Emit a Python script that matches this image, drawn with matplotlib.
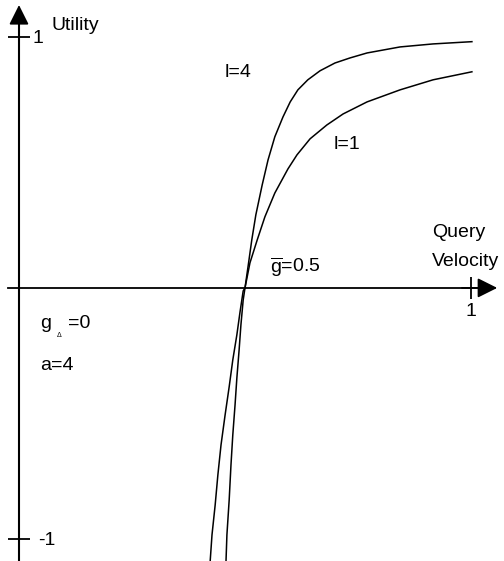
import matplotlib
matplotlib.use("Agg")
import matplotlib.pyplot as plt

plt.rcParams['font.family'] = ['Liberation Sans', 'DejaVu Sans']
plt.rcParams['mathtext.fontset'] = 'custom'
plt.rcParams['mathtext.rm'] = 'Liberation Sans'
plt.rcParams['mathtext.it'] = 'Liberation Sans'

# utility vs. query velocity
vel_l4 = [0.458, 0.460, 0.465, 0.469, 0.473, 0.478, 0.482, 0.487, 0.491, 0.496, 0.500,
          0.507, 0.515, 0.524, 0.538, 0.551, 0.566, 0.584, 0.600, 0.617, 0.639, 0.666,
          0.699, 0.732, 0.770, 0.843, 0.916, 1.002]
util_l4 = [-1.088, -0.984, -0.845, -0.705, -0.586, -0.466, -0.359, -0.247, -0.147, -0.048, 0.0,
           0.088, 0.191, 0.291, 0.410, 0.510, 0.602, 0.681, 0.741, 0.789, 0.829, 0.865,
           0.896, 0.916, 0.936, 0.960, 0.972, 0.981]

vel_l1 = [0.423, 0.427, 0.434, 0.440, 0.447, 0.456, 0.465, 0.473, 0.482, 0.489, 0.496, 0.500,
          0.511, 0.527, 0.544, 0.566, 0.595, 0.615, 0.644, 0.681, 0.717, 0.770, 0.843,
          0.916, 1.002]
util_l1 = [-1.088, -0.984, -0.865, -0.745, -0.625, -0.506, -0.394, -0.287, -0.187, -0.096, -0.012, 0.0,
           0.100, 0.191, 0.283, 0.378, 0.474, 0.530, 0.594, 0.649, 0.693, 0.741, 0.789,
           0.829, 0.861]

x_ticks = [1]
y_ticks = [-1, 1]

fig = plt.figure(figsize=(5.04, 5.61), dpi=100)
ax = fig.add_axes([0, 0, 1, 1])
ax.set_xlim(-0.042, 1.073)
ax.set_ylim(-1.088, 1.147)

# axes through the origin
for side in ['top', 'right']:
    ax.spines[side].set_visible(False)
ax.spines['left'].set_position(('data', 0))
ax.spines['bottom'].set_position(('data', 0))
ax.spines['left'].set_bounds(-1.2, 1.08)
ax.spines['bottom'].set_bounds(-0.024, 1.03)
ax.spines['left'].set_linewidth(1.5)
ax.spines['bottom'].set_linewidth(1.3)
ax.set_xticks(x_ticks)
ax.set_yticks(y_ticks)
ax.tick_params(direction='inout', length=16, width=1.3,
               labelleft=False, labelbottom=False)

arrow = dict(arrowstyle='-|>,head_length=1.2,head_width=0.6', color='black',
             lw=1.3, shrinkA=0, shrinkB=0)
ax.annotate('', xy=(0, 1.127), xytext=(0, 1.0), arrowprops=arrow)
ax.annotate('', xy=(1.058, 0), xytext=(0.98, 0), arrowprops=arrow)

ax.plot(vel_l4, util_l4, color='black', lw=1.1)
ax.plot(vel_l1, util_l1, color='black', lw=1.1)

fs = 14
ax.text(0.073, 1.044, 'Utility', fontsize=fs, va='center')
ax.text(0.029, 0.995, '1', fontsize=fs, va='center')
ax.text(0.042, -1.008, '-1', fontsize=fs, va='center')
ax.text(1.0, -0.095, '1', fontsize=fs, ha='center', va='center')
ax.text(0.914, 0.219, 'Query', fontsize=fs, va='center')
ax.text(0.914, 0.104, 'Velocity', fontsize=fs, va='center')
ax.text(0.454, 0.857, 'l=4', fontsize=fs, va='center')
ax.text(0.695, 0.570, 'l=1', fontsize=fs, va='center')
ax.text(0.555, 0.084, r'$\overline{\mathrm{g}}$=0.5', fontsize=fs, va='center')
ax.text(0.046, -0.143, 'g', fontsize=fs, va='center')
ax.text(0.083, -0.19, 'Δ', fontsize=5, va='center')
ax.text(0.108, -0.143, '=0', fontsize=fs, va='center')
ax.text(0.046, -0.311, 'a=4', fontsize=fs, va='center')

fig.savefig('out.png', dpi=100)
